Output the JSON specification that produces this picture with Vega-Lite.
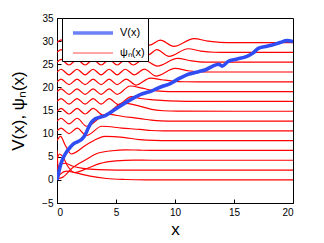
{
  "$schema": "https://vega.github.io/schema/vega-lite/v6.json",
  "autosize": {"type": "none"},
  "padding": {"left": 57, "top": 18, "right": 31, "bottom": 40},
  "width": 236,
  "height": 185,
  "background": "white",
  "datasets": {
    "levels": [
      {"E": 0}, {"E": 2.12}, {"E": 4.24}, {"E": 6.36}, {"E": 8.48}, {"E": 10.6}, {"E": 12.72}, {"E": 14.84},
      {"E": 16.96}, {"E": 19.08}, {"E": 21.2}, {"E": 23.32}, {"E": 25.44}, {"E": 27.56}, {"E": 29.68}
    ],
    "pot": [
      {"x": 0, "y": 0}, {"x": 0.12, "y": 1.3}, {"x": 0.3, "y": 3.2}, {"x": 0.55, "y": 4.9}, {"x": 0.8, "y": 6.0},
      {"x": 1.1, "y": 7.0}, {"x": 1.4, "y": 7.8}, {"x": 1.8, "y": 8.3}, {"x": 2.1, "y": 8.8}, {"x": 2.4, "y": 9.8},
      {"x": 2.65, "y": 11.2}, {"x": 2.9, "y": 12.4}, {"x": 3.25, "y": 13.2}, {"x": 3.7, "y": 13.6}, {"x": 4.1, "y": 13.9},
      {"x": 4.5, "y": 14.5}, {"x": 4.9, "y": 15.2}, {"x": 5.5, "y": 16.2}, {"x": 6.2, "y": 17.3}, {"x": 6.7, "y": 18.0},
      {"x": 7.1, "y": 18.5}, {"x": 7.6, "y": 18.9}, {"x": 8.0, "y": 19.2}, {"x": 8.5, "y": 19.8}, {"x": 9.0, "y": 20.3},
      {"x": 9.6, "y": 20.8}, {"x": 10.0, "y": 21.4}, {"x": 10.5, "y": 22.1}, {"x": 11.0, "y": 22.7}, {"x": 11.4, "y": 23.0},
      {"x": 12.0, "y": 23.4}, {"x": 12.6, "y": 23.8}, {"x": 13.2, "y": 24.6}, {"x": 13.7, "y": 25.0}, {"x": 14.0, "y": 24.6},
      {"x": 14.5, "y": 25.6}, {"x": 15.2, "y": 26.1}, {"x": 16.1, "y": 26.7}, {"x": 16.6, "y": 27.4}, {"x": 17.1, "y": 28.5},
      {"x": 17.8, "y": 28.9}, {"x": 18.3, "y": 29.2}, {"x": 18.9, "y": 29.7}, {"x": 19.5, "y": 30.1}, {"x": 20, "y": 29.9}
    ],
    "psi": [
      {"n": 0, "x": 0, "y": 0}, {"n": 0, "x": 0.3, "y": 1.3}, {"n": 0, "x": 0.8, "y": 1.9}, {"n": 0, "x": 1.6, "y": 1.5},
      {"n": 0, "x": 2.8, "y": 0.8}, {"n": 0, "x": 4.2, "y": 0.3}, {"n": 0, "x": 5.8, "y": 0.08}, {"n": 0, "x": 7.5, "y": 0}, {"n": 0, "x": 20, "y": 0},

      {"n": 1, "x": 0, "y": 2.12}, {"n": 1, "x": 0.25, "y": 3.3}, {"n": 1, "x": 0.7, "y": 3.6}, {"n": 1, "x": 1.3, "y": 3.0},
      {"n": 1, "x": 2.2, "y": 2.5}, {"n": 1, "x": 3.5, "y": 2.2}, {"n": 1, "x": 5, "y": 2.12}, {"n": 1, "x": 20, "y": 2.12},

      {"n": 2, "x": 0, "y": 4.24}, {"n": 2, "x": 0.2, "y": 5.6}, {"n": 2, "x": 0.5, "y": 5.0}, {"n": 2, "x": 0.9, "y": 3.0},
      {"n": 2, "x": 1.5, "y": 1.6}, {"n": 2, "x": 2.5, "y": 2.4}, {"n": 2, "x": 3.6, "y": 3.5}, {"n": 2, "x": 5, "y": 4.1},
      {"n": 2, "x": 6.5, "y": 4.26}, {"n": 2, "x": 8, "y": 4.24}, {"n": 2, "x": 20, "y": 4.24},

      {"n": 3, "x": 0, "y": 6.36}, {"n": 3, "x": 0.06, "y": 3.5}, {"n": 3, "x": 0.14, "y": 0.3}, {"n": 3, "x": 0.5, "y": 0.6},
      {"n": 3, "x": 1.27, "y": 2.5}, {"n": 3, "x": 2.4, "y": 4.3}, {"n": 3, "x": 3.5, "y": 5.8}, {"n": 3, "x": 4.66, "y": 6.3},
      {"n": 3, "x": 5.8, "y": 6.5}, {"n": 3, "x": 7, "y": 6.42}, {"n": 3, "x": 8.5, "y": 6.36}, {"n": 3, "x": 20, "y": 6.36},

      {"n": 4, "x": 0, "y": 8.48}, {"n": 4, "x": 0.3, "y": 9.4}, {"n": 4, "x": 0.7, "y": 7.5}, {"n": 4, "x": 1.2, "y": 5.6},
      {"n": 4, "x": 2.5, "y": 7.6}, {"n": 4, "x": 4.1, "y": 9.4}, {"n": 4, "x": 5.6, "y": 9.2}, {"n": 4, "x": 7, "y": 8.7},
      {"n": 4, "x": 8.2, "y": 8.52}, {"n": 4, "x": 9.5, "y": 8.48}, {"n": 4, "x": 20, "y": 8.48},

      {"n": 5, "x": 0, "y": 10.6}, {"n": 5, "x": 0.34, "y": 11.2}, {"n": 5, "x": 1.02, "y": 10.0}, {"n": 5, "x": 1.7, "y": 11.2},
      {"n": 5, "x": 2.5, "y": 9.6}, {"n": 5, "x": 3.8, "y": 11.6}, {"n": 5, "x": 5.5, "y": 11.2}, {"n": 5, "x": 7.06, "y": 10.9},
      {"n": 5, "x": 8.0, "y": 10.68}, {"n": 5, "x": 9, "y": 10.6}, {"n": 5, "x": 20, "y": 10.6},

      {"n": 6, "x": 0, "y": 12.72}, {"n": 6, "x": 0.34, "y": 13.32}, {"n": 6, "x": 1.02, "y": 12.12}, {"n": 6, "x": 1.7, "y": 13.32},
      {"n": 6, "x": 2.5, "y": 11.6}, {"n": 6, "x": 4.2, "y": 14.2}, {"n": 6, "x": 5.6, "y": 13.7}, {"n": 6, "x": 7.06, "y": 13.25},
      {"n": 6, "x": 8.0, "y": 12.9}, {"n": 6, "x": 8.8, "y": 12.76}, {"n": 6, "x": 10, "y": 12.72}, {"n": 6, "x": 20, "y": 12.72},

      {"n": 7, "x": 0, "y": 14.84}, {"n": 7, "x": 0.34, "y": 15.44}, {"n": 7, "x": 1.02, "y": 14.24}, {"n": 7, "x": 1.7, "y": 15.44},
      {"n": 7, "x": 2.38, "y": 14.24}, {"n": 7, "x": 3.06, "y": 15.44}, {"n": 7, "x": 3.9, "y": 14.0}, {"n": 7, "x": 5.6, "y": 16.6},
      {"n": 7, "x": 7.06, "y": 15.9}, {"n": 7, "x": 8.0, "y": 15.25}, {"n": 7, "x": 9.0, "y": 14.95}, {"n": 7, "x": 10.2, "y": 14.85},
      {"n": 7, "x": 20, "y": 14.84},

      {"n": 8, "x": 0, "y": 16.96}, {"n": 8, "x": 0.34, "y": 17.56}, {"n": 8, "x": 1.02, "y": 16.36}, {"n": 8, "x": 1.7, "y": 17.56},
      {"n": 8, "x": 2.38, "y": 16.36}, {"n": 8, "x": 3.06, "y": 17.56}, {"n": 8, "x": 3.74, "y": 16.36}, {"n": 8, "x": 4.42, "y": 17.56},
      {"n": 8, "x": 5.2, "y": 16.3}, {"n": 8, "x": 6.3, "y": 18.0}, {"n": 8, "x": 7.06, "y": 17.6}, {"n": 8, "x": 8.2, "y": 17.3},
      {"n": 8, "x": 9.5, "y": 17.08}, {"n": 8, "x": 11, "y": 16.97}, {"n": 8, "x": 12, "y": 16.96}, {"n": 8, "x": 20, "y": 16.96},

      {"n": 9, "x": 0, "y": 19.08}, {"n": 9, "x": 0.34, "y": 19.68}, {"n": 9, "x": 1.02, "y": 18.48}, {"n": 9, "x": 1.7, "y": 19.68},
      {"n": 9, "x": 2.38, "y": 18.48}, {"n": 9, "x": 3.06, "y": 19.68}, {"n": 9, "x": 3.74, "y": 18.48}, {"n": 9, "x": 4.42, "y": 19.68},
      {"n": 9, "x": 5.1, "y": 18.5}, {"n": 9, "x": 6.2, "y": 20.3}, {"n": 9, "x": 7.2, "y": 19.85}, {"n": 9, "x": 8.0, "y": 19.4},
      {"n": 9, "x": 9.0, "y": 19.15}, {"n": 9, "x": 10, "y": 19.08}, {"n": 9, "x": 20, "y": 19.08},

      {"n": 10, "x": 0, "y": 21.2}, {"n": 10, "x": 0.34, "y": 21.8}, {"n": 10, "x": 1.02, "y": 20.6}, {"n": 10, "x": 1.7, "y": 21.8},
      {"n": 10, "x": 2.38, "y": 20.6}, {"n": 10, "x": 3.06, "y": 21.8}, {"n": 10, "x": 3.74, "y": 20.6}, {"n": 10, "x": 4.42, "y": 21.8},
      {"n": 10, "x": 5.1, "y": 20.6}, {"n": 10, "x": 5.85, "y": 21.8}, {"n": 10, "x": 6.7, "y": 20.5}, {"n": 10, "x": 7.9, "y": 22.0},
      {"n": 10, "x": 8.9, "y": 21.65}, {"n": 10, "x": 9.8, "y": 21.35}, {"n": 10, "x": 10.8, "y": 21.22}, {"n": 10, "x": 12, "y": 21.2},
      {"n": 10, "x": 20, "y": 21.2},

      {"n": 11, "x": 0, "y": 23.32}, {"n": 11, "x": 0.34, "y": 23.92}, {"n": 11, "x": 1.02, "y": 22.72}, {"n": 11, "x": 1.7, "y": 23.92},
      {"n": 11, "x": 2.38, "y": 22.72}, {"n": 11, "x": 3.06, "y": 23.92}, {"n": 11, "x": 3.74, "y": 22.72}, {"n": 11, "x": 4.42, "y": 23.92},
      {"n": 11, "x": 5.1, "y": 22.72}, {"n": 11, "x": 5.78, "y": 23.92}, {"n": 11, "x": 6.55, "y": 22.72}, {"n": 11, "x": 7.4, "y": 23.95},
      {"n": 11, "x": 8.4, "y": 22.45}, {"n": 11, "x": 10.0, "y": 24.1}, {"n": 11, "x": 11.1, "y": 23.6}, {"n": 11, "x": 12.2, "y": 23.36},
      {"n": 11, "x": 13.5, "y": 23.32}, {"n": 11, "x": 20, "y": 23.32},

      {"n": 12, "x": 0, "y": 25.44}, {"n": 12, "x": 0.34, "y": 26.04}, {"n": 12, "x": 1.02, "y": 24.84}, {"n": 12, "x": 1.7, "y": 26.04},
      {"n": 12, "x": 2.38, "y": 24.84}, {"n": 12, "x": 3.06, "y": 26.04}, {"n": 12, "x": 3.74, "y": 24.84}, {"n": 12, "x": 4.42, "y": 26.04},
      {"n": 12, "x": 5.1, "y": 24.84}, {"n": 12, "x": 5.78, "y": 26.04}, {"n": 12, "x": 6.46, "y": 24.84}, {"n": 12, "x": 7.3, "y": 26.0},
      {"n": 12, "x": 8.5, "y": 24.6}, {"n": 12, "x": 10.2, "y": 26.25}, {"n": 12, "x": 11.4, "y": 25.75}, {"n": 12, "x": 12.6, "y": 25.48},
      {"n": 12, "x": 14, "y": 25.44}, {"n": 12, "x": 20, "y": 25.44},

      {"n": 13, "x": 0, "y": 27.56}, {"n": 13, "x": 0.34, "y": 28.16}, {"n": 13, "x": 1.02, "y": 26.96}, {"n": 13, "x": 1.7, "y": 28.16},
      {"n": 13, "x": 2.38, "y": 26.96}, {"n": 13, "x": 3.06, "y": 28.16}, {"n": 13, "x": 3.74, "y": 26.96}, {"n": 13, "x": 4.42, "y": 28.16},
      {"n": 13, "x": 5.1, "y": 26.96}, {"n": 13, "x": 5.78, "y": 28.16}, {"n": 13, "x": 6.46, "y": 26.96}, {"n": 13, "x": 7.14, "y": 28.16},
      {"n": 13, "x": 7.75, "y": 27.05}, {"n": 13, "x": 8.45, "y": 28.15}, {"n": 13, "x": 9.5, "y": 26.7}, {"n": 13, "x": 11.1, "y": 28.35},
      {"n": 13, "x": 12.2, "y": 27.85}, {"n": 13, "x": 13.3, "y": 27.6}, {"n": 13, "x": 14.5, "y": 27.56}, {"n": 13, "x": 20, "y": 27.56},

      {"n": 14, "x": 0, "y": 29.68}, {"n": 14, "x": 0.34, "y": 30.28}, {"n": 14, "x": 1.02, "y": 29.08}, {"n": 14, "x": 1.7, "y": 30.28},
      {"n": 14, "x": 2.38, "y": 29.08}, {"n": 14, "x": 3.06, "y": 30.28}, {"n": 14, "x": 3.74, "y": 29.08}, {"n": 14, "x": 4.42, "y": 30.28},
      {"n": 14, "x": 5.1, "y": 29.08}, {"n": 14, "x": 5.78, "y": 30.28}, {"n": 14, "x": 6.46, "y": 29.08}, {"n": 14, "x": 7.14, "y": 30.28},
      {"n": 14, "x": 7.82, "y": 29.13}, {"n": 14, "x": 8.75, "y": 30.2}, {"n": 14, "x": 9.9, "y": 28.85}, {"n": 14, "x": 11.6, "y": 30.55},
      {"n": 14, "x": 12.8, "y": 30.0}, {"n": 14, "x": 13.8, "y": 29.73}, {"n": 14, "x": 15, "y": 29.68}, {"n": 14, "x": 20, "y": 29.68}
    ]
  },
  "layer": [
    {
      "data": {"name": "psi"},
      "transform": [{"calculate": "'ψₙ(x)'", "as": "s"}],
      "mark": {"type": "line", "interpolate": "monotone", "clip": true},
      "encoding": {
        "x": {"field": "x", "type": "quantitative"},
        "y": {"field": "y", "type": "quantitative"},
        "detail": {"field": "n", "type": "nominal"},
        "color": {"field": "s", "type": "nominal"},
        "strokeWidth": {"field": "s", "type": "nominal"}
      }
    },
    {
      "data": {"name": "levels"},
      "mark": {"type": "rule", "color": "black", "strokeWidth": 1, "opacity": 0.7},
      "encoding": {
        "y": {"field": "E", "type": "quantitative"}
      }
    },
    {
      "data": {"name": "pot"},
      "transform": [{"calculate": "'V(x)'", "as": "s"}],
      "mark": {"type": "line", "interpolate": "monotone", "clip": true},
      "encoding": {
        "x": {"field": "x", "type": "quantitative"},
        "y": {"field": "y", "type": "quantitative"},
        "color": {"field": "s", "type": "nominal"},
        "strokeWidth": {"field": "s", "type": "nominal"}
      }
    }
  ],
  "encoding": {
    "x": {
      "field": "x", "type": "quantitative", "title": "x",
      "scale": {"domain": [0, 20], "nice": false, "zero": false},
      "axis": {"values": [0, 5, 10, 15, 20], "titlePadding": 4}
    },
    "y": {
      "field": "y", "type": "quantitative", "title": "V(x), ψₙ(x)",
      "scale": {"domain": [-5, 35], "nice": false, "zero": false},
      "axis": {"values": [-5, 0, 5, 10, 15, 20, 25, 30, 35], "titlePadding": 14}
    },
    "color": {
      "field": "s", "type": "nominal", "title": null,
      "scale": {"domain": ["V(x)", "ψₙ(x)"], "range": ["#2f4df2", "#ff0000"]},
      "legend": {"orient": "none", "legendX": 5, "legendY": 0}
    },
    "strokeWidth": {
      "field": "s", "type": "nominal", "title": null,
      "scale": {"domain": ["V(x)", "ψₙ(x)"], "range": [3.6, 1.2]},
      "legend": {"orient": "none", "legendX": 5, "legendY": 0}
    }
  },
  "config": {
    "view": {"stroke": "black", "strokeWidth": 1},
    "axis": {
      "grid": false,
      "domainColor": "black",
      "tickColor": "black",
      "tickSize": -4,
      "labelColor": "black",
      "labelFont": "Liberation Sans",
      "labelFontSize": 10,
      "labelPadding": 8,
      "titleFont": "Liberation Sans",
      "titleFontSize": 17,
      "titleFontWeight": "normal",
      "titleColor": "black"
    },
    "legend": {
      "strokeColor": "black",
      "fillColor": "white",
      "padding": 3,
      "symbolType": "M-0.4,0H3.6",
      "symbolSize": 400,
      "labelOffset": 31,
      "labelFont": "Liberation Sans",
      "labelFontSize": 11,
      "labelColor": "black",
      "rowPadding": 1,
      "symbolFillColor": "transparent"
    }
  }
}
